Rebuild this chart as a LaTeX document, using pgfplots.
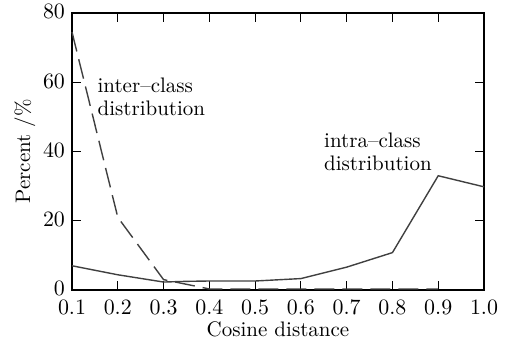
\documentclass[border=0pt]{standalone}
\usepackage{pgfplots}
\pgfplotsset{compat=1.18}
\begin{document}
\begin{tikzpicture}
\path[use as bounding box] (-36pt,-26pt) rectangle (217pt,145pt);
\begin{axis}[
  at={(0pt,0pt)}, anchor=south west,
  scale only axis, width=206pt, height=138.5pt,
  xmin=0.1, xmax=1.0, ymin=0, ymax=80,
  xtick={0.1,0.2,0.3,0.4,0.5,0.6,0.7,0.8,0.9,1.0},
  ytick={0,20,40,60,80},
  xticklabel style={yshift=-1.8pt, /pgf/number format/fixed, /pgf/number format/fixed zerofill, /pgf/number format/precision=1},
  yticklabel style={yshift=0.6pt},
  tick label style={font=\fontsize{10.5}{12}\selectfont},
  label style={font=\fontsize{10.5}{12}\selectfont},
  major tick length=4.5pt,
  tick style={black, line width=0.5pt},
  axis line style={line width=0.6pt},
  xlabel={Cosine distance},
  ylabel={Percent /\%},
  xlabel style={yshift=3.5pt},
  ylabel style={yshift=-3pt},
  every axis plot/.append style={line width=0.7pt, black!75},
  clip=false,
]
\addplot[solid] coordinates {
 (0.1,7.0) (0.2,4.4) (0.3,2.3) (0.35,2.5) (0.4,2.6) (0.5,2.6) (0.6,3.3) (0.7,6.6) (0.8,10.8) (0.9,33.0) (1.0,29.8)
};
\addplot[dash pattern=on 10pt off 4pt] coordinates {
 (0.1,74.5) (0.2,21.0) (0.3,3.0) (0.4,0.3) (0.5,0.3) (0.6,0.3) (0.7,0.3) (0.8,0.3) (0.9,0.3)
};
\node[anchor=north west, align=left, inner sep=0pt, font={\fontsize{10.5}{11.5}\selectfont}] at (axis cs:0.155,61.5) {inter--class\\distribution};
\node[anchor=north west, align=left, inner sep=0pt, font={\fontsize{10.5}{11.5}\selectfont}] at (axis cs:0.650,45.5) {intra--class\\distribution};
\end{axis}
\end{tikzpicture}
\end{document}
